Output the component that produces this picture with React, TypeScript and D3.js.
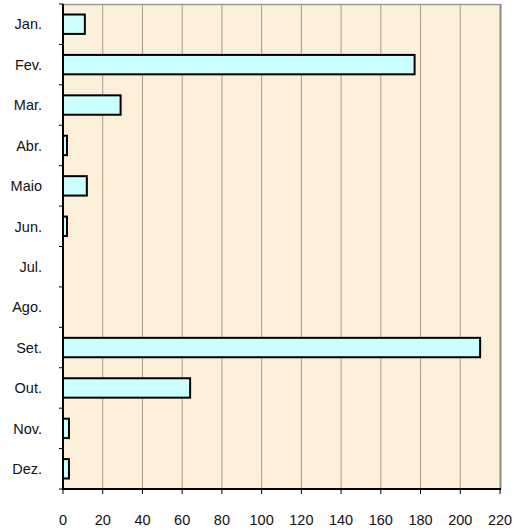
import React from "react";
import * as d3 from "d3";

const months = ["Jan.", "Fev.", "Mar.", "Abr.", "Maio", "Jun.", "Jul.", "Ago.", "Set.", "Out.", "Nov.", "Dez."];
const counts = [11, 177, 29, 2, 12, 2, 0, 0, 210, 64, 3, 3];
const xTicks = [0, 20, 40, 60, 80, 100, 120, 140, 160, 180, 200, 220];

const W = 517;
const H = 530;
const left = 63;
const right = 500;
const top = 4;
const bottom = 489;

export default function App() {
    const x = d3.scaleLinear().domain([0, 220]).range([left, right]);
    const y = d3.scaleBand().domain(months).range([top, bottom]).paddingInner(0.52).paddingOuter(0.26);
    const band = (bottom - top) / months.length;
    const edges = d3.range(months.length + 1).map(i => top + i * band);

    return (
        <svg width={W} height={H} style={{ position: "absolute", left: 0, top: 0, fontFamily: "Arial, 'Liberation Sans', sans-serif" }}>
            <rect x={left} y={top} width={right - left} height={bottom - top} fill="#fdf0db" />
            {xTicks.slice(1, -1).map(t => (
                <line key={"g" + t} x1={x(t)} x2={x(t)} y1={top} y2={bottom} stroke="#a39c8e" strokeWidth={1} />
            ))}
            <line x1={left} x2={right} y1={top + 0.5} y2={top + 0.5} stroke="#9a9a9a" strokeWidth={1.5} />
            <line x1={right + 0.5} x2={right + 0.5} y1={top} y2={bottom} stroke="#8a8a8a" strokeWidth={2} />
            {months.map((m, i) => (
                counts[i] > 0 ? (
                    <rect key={"b" + m} x={x(0)} y={y(m)} width={x(counts[i]) - x(0)} height={y.bandwidth()}
                        fill="#ccffff" stroke="#000" strokeWidth={2} />
                ) : null
            ))}
            <line x1={left} x2={left} y1={top} y2={bottom + 1} stroke="#000" strokeWidth={2} />
            <line x1={left} x2={right + 1} y1={bottom} y2={bottom} stroke="#000" strokeWidth={2} />
            {edges.map((e, i) => (
                <line key={"yt" + i} x1={left - 4} x2={left} y1={e} y2={e} stroke="#000" strokeWidth={1} />
            ))}
            {xTicks.map(t => (
                <line key={"xt" + t} x1={x(t)} x2={x(t)} y1={bottom} y2={bottom + 5} stroke="#000" strokeWidth={1} />
            ))}
            {months.map(m => (
                <text key={"l" + m} x={42} y={(y(m) as number) + y.bandwidth() / 2} dy="0.36em" textAnchor="end" fontSize={14.5} fill="#111">{m}</text>
            ))}
            {xTicks.map(t => (
                <text key={"xl" + t} x={x(t)} y={525} textAnchor="middle" fontSize={14.5} fill="#111">{t}</text>
            ))}
        </svg>
    );
}
